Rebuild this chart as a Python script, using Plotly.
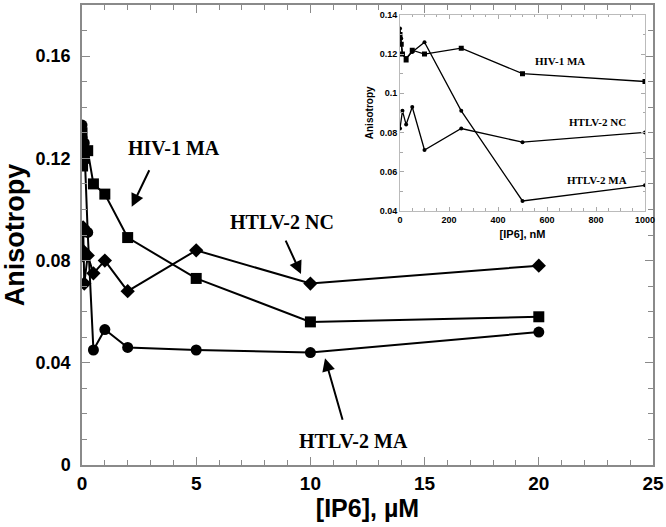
import plotly.graph_objects as go

# ---- data (main plot, concentration in µM) ----
x_main_uM = [0, 0.005, 0.01, 0.025, 0.05, 0.1, 0.25, 0.5, 1, 2, 5, 10, 20]
hiv1_ma = [0.130, 0.125, 0.120, 0.117, 0.122, 0.120, 0.123, 0.110, 0.106, 0.089, 0.073, 0.056, 0.058]
htlv2_ma = [0.133, 0.128, 0.120, 0.118, 0.121, 0.126, 0.091, 0.045, 0.053, 0.046, 0.045, 0.044, 0.052]
x_nc_uM = [0, 0.01, 0.025, 0.05, 0.1, 0.25, 0.5, 1, 2, 5, 10, 20]
htlv2_nc = [0.082, 0.091, 0.084, 0.093, 0.071, 0.082, 0.075, 0.080, 0.068, 0.084, 0.071, 0.078]

# ---- data (inset, concentration in nM) ----
x_in_nM = [0, 5, 10, 25, 50, 100, 250, 500, 1000]
hiv1_ma_in = [0.130, 0.125, 0.120, 0.117, 0.122, 0.120, 0.123, 0.110, 0.106]
htlv2_ma_in = [0.133, 0.128, 0.120, 0.118, 0.121, 0.126, 0.091, 0.045, 0.053]
x_nc_in_nM = [0, 10, 25, 50, 100, 250, 500, 1000]
htlv2_nc_in = [0.082, 0.091, 0.084, 0.093, 0.071, 0.082, 0.075, 0.080]

W, H = 666, 527
L, R, T, B = 82, 13, 0, 62
PW, PH = W - L - R, H - T - B


def px(x):
    return (x - L) / PW


def py(y):
    return (H - B - y) / PH


fig = go.Figure()
line = dict(color="black", width=2)
fig.add_trace(go.Scatter(x=x_main_uM, y=hiv1_ma, mode="lines+markers", name="HIV-1 MA",
                         line=line, marker=dict(symbol="square", size=11, color="black")))
fig.add_trace(go.Scatter(x=x_nc_uM, y=htlv2_nc, mode="lines+markers", name="HTLV-2 NC",
                         line=line, marker=dict(symbol="diamond", size=11, color="black")))
fig.add_trace(go.Scatter(x=x_main_uM, y=htlv2_ma, mode="lines+markers", name="HTLV-2 MA",
                         line=line, marker=dict(symbol="circle", size=11, color="black")))

iline = dict(color="black", width=1.3)
fig.add_trace(go.Scatter(x=x_in_nM, y=hiv1_ma_in, mode="lines+markers", xaxis="x2", yaxis="y2",
                         line=iline, marker=dict(symbol="square", size=5, color="black")))
fig.add_trace(go.Scatter(x=x_nc_in_nM, y=htlv2_nc_in, mode="lines+markers", xaxis="x2", yaxis="y2",
                         line=iline, marker=dict(symbol="circle", size=4, color="black")))
fig.add_trace(go.Scatter(x=x_in_nM, y=htlv2_ma_in, mode="lines+markers", xaxis="x2", yaxis="y2",
                         line=iline, marker=dict(symbol="circle", size=4, color="black")))

axc = "#8a8a8a"
sans = "Liberation Sans, Arial, sans-serif"
serif = "Liberation Serif, Times New Roman, serif"

fig.update_layout(
    width=W, height=H, showlegend=False,
    margin=dict(l=L, r=R, t=T, b=B),
    plot_bgcolor="white", paper_bgcolor="white",
    xaxis=dict(range=[0, 25], dtick=5, ticks="inside", ticklen=8, tickcolor=axc,
               showline=True, linecolor=axc, linewidth=1.5, mirror="allticks",
               showgrid=False, zeroline=False,
               minor=dict(dtick=1, ticks="inside", ticklen=5, tickcolor=axc, showgrid=False),
               tickfont=dict(family=sans, size=19, color="black", weight="bold"),
               title=dict(text="[IP6], µM", font=dict(family=sans, size=25, color="black", weight="bold"),
                          standoff=6)),
    yaxis=dict(range=[0, 0.18], dtick=0.04, ticks="inside", ticklen=8, tickcolor=axc,
               showline=True, linecolor=axc, linewidth=1.5, mirror="allticks",
               showgrid=False, zeroline=False,
               minor=dict(dtick=0.01, ticks="inside", ticklen=5, tickcolor=axc, showgrid=False),
               tickfont=dict(family=sans, size=18, color="black", weight="bold"),
               ticklabelstandoff=6,
               title=dict(text="Anisotropy", font=dict(family=sans, size=27, color="black", weight="bold"),
                          standoff=4)),
    xaxis2=dict(domain=[px(400), px(645)], anchor="y2", range=[0, 1000], dtick=200,
                ticks="inside", ticklen=4, tickcolor="#aaaaaa",
                showline=True, linecolor="#bbbbbb", linewidth=1, mirror="allticks",
                showgrid=False, zeroline=False,
                minor=dict(dtick=50, ticks="inside", ticklen=2.5, tickcolor="#aaaaaa", showgrid=False),
                tickfont=dict(family=sans, size=9, color="black", weight="bold"),
                title=dict(text="[IP6], nM", font=dict(family=sans, size=11, color="black", weight="bold"),
                           standoff=6)),
    yaxis2=dict(domain=[py(208), py(10)], anchor="x2", range=[0.04, 0.14], dtick=0.02,
                ticks="inside", ticklen=4, tickcolor="#aaaaaa",
                showline=True, linecolor="#bbbbbb", linewidth=1, mirror="allticks",
                showgrid=False, zeroline=False,
                minor=dict(dtick=0.01, ticks="inside", ticklen=2.5, tickcolor="#aaaaaa", showgrid=False),
                tickfont=dict(family=sans, size=9, color="black", weight="bold"),
                title=dict(text="Anisotropy", font=dict(family=sans, size=10, color="black", weight="bold"),
                           standoff=4)),
)

labels = [
    ("HIV-1 MA", 174, 145, 20),
    ("HTLV-2 NC", 282, 219, 20),
    ("HTLV-2 MA", 353, 441, 20),
    ("HIV-1 MA", 560, 57, 11),
    ("HTLV-2 NC", 597, 118, 11),
    ("HTLV-2 MA", 597, 177, 11),
]
for text, x, y, s in labels:
    fig.add_annotation(text=text, x=px(x), y=py(y), xref="paper", yref="paper",
                       showarrow=False, xanchor="center", yanchor="middle",
                       font=dict(family=serif, size=s, color="black", weight="bold"))

arrows = [  # tail (x, y) -> tip (x, y) in pixels
    ((150, 166), (131.7, 204)),
    ((285, 237), (301, 272)),
    ((343, 420), (325, 357)),
]
for (tx, ty), (hx, hy) in arrows:
    fig.add_annotation(text="", x=px(hx), y=py(hy), xref="paper", yref="paper",
                       ax=tx - hx, ay=ty - hy, showarrow=True, arrowhead=2,
                       arrowsize=1.3, arrowwidth=2, arrowcolor="black")

fig.write_html("out.html", config={"displayModeBar": False},
               post_script="document.body.style.margin='0';")
